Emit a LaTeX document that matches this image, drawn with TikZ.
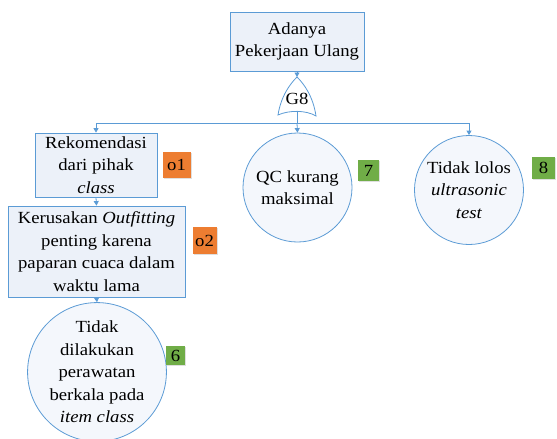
\documentclass[tikz,border=0pt]{standalone}
\usepackage{fontspec}
\setmainfont{Liberation Serif}[FakeStretch=1.1]
\usetikzlibrary{arrows.meta,shadows}
\definecolor{edge}{RGB}{91,155,213}
\definecolor{boxfill}{RGB}{236,241,249}
\definecolor{circfill}{RGB}{244,247,252}
\definecolor{orangebadge}{RGB}{237,125,49}
\definecolor{greenbadge}{RGB}{112,173,71}
\tikzset{
  event/.style={draw=edge, line width=0.8pt, fill=boxfill, align=center,
    inner sep=0pt, font=\fontsize{17}{22.5}\selectfont},
  basic/.style={circle, draw=edge, line width=0.8pt, fill=circfill, align=center,
    inner sep=0pt, font=\fontsize{17}{22.5}\selectfont},
  badge/.style={draw=none, inner sep=0pt, font=\fontsize{17}{20}\selectfont,
    drop shadow={opacity=0.25, shadow xshift=1.2pt, shadow yshift=-1.2pt}},
  link/.style={draw=edge, line width=0.8pt},
  arrowlink/.style={link, -{Triangle[width=5pt,length=4.5pt]}},
}
\begin{document}
\begin{tikzpicture}[x=1pt,y=-1pt]
\useasboundingbox (0,0) rectangle (557,439);

% top event
\node[event, minimum width=134pt, minimum height=59pt] (top) at (297,41.5)
  {Adanya\\Pekerjaan Ulang};

% OR gate G8
\coordinate (gtop) at (297,77);
\coordinate (gbot) at (297,112);
\draw[edge, line width=0.8pt, fill=white]
  (278,115) .. controls (281,96) and (290,84) .. (gtop)
  .. controls (304,84) and (313,96) .. (316,116)
  .. controls (306,110) and (289,110) .. cycle;
\node[font=\fontsize{17}{20}\selectfont, inner sep=0pt] (g8) at (297,99) {G8};

% intermediate events
\node[event, minimum width=122pt, minimum height=64pt] (rek) at (96,165)
  {Rekomendasi\\dari pihak\\\textit{class}};
\node[event, minimum width=177pt, minimum height=91pt] (ker) at (96.5,251.5)
  {Kerusakan \textit{Outfitting}\\penting karena\\paparan cuaca dalam\\waktu lama};

% basic events
\node[basic, minimum size=130pt] (c6) at (97,372)
  {Tidak\\dilakukan\\perawatan\\berkala pada\\\textit{item class}};
\node[basic, minimum size=109pt] (c7) at (297.5,187.5)
  {QC kurang\\maksimal};
\node[basic, minimum size=109pt] (c8) at (469,190)
  {Tidak lolos\\\textit{ultrasonic}\\\textit{test}};

% labels
\node[badge, fill=orangebadge, minimum width=28pt, minimum height=26pt] (o1) at (176.5,165) {o1};
\node[badge, fill=orangebadge, minimum width=24pt, minimum height=27pt] (o2) at (204.5,240.5) {o2};
\node[badge, fill=greenbadge, minimum width=19pt, minimum height=19pt] (b6) at (175.5,355.5) {6};
\node[badge, fill=greenbadge, minimum width=21pt, minimum height=21pt] (b7) at (368.5,170.5) {7};
\node[badge, fill=greenbadge, minimum width=23pt, minimum height=22pt] (b8) at (543.5,168) {8};

% connectors
\coordinate (j) at (297,123);
\draw[arrowlink] (top.south) -- (gtop);
\draw[link] (gbot) -- (j);
\draw[arrowlink] (j) -| (rek.north);
\draw[arrowlink] (j) -- (c7.north);
\draw[arrowlink] (j) -| (c8.north);
\draw[arrowlink] (rek.south) -- (ker.north);
\draw[arrowlink] (ker.south) -- (c6.north);
\end{tikzpicture}
\end{document}
